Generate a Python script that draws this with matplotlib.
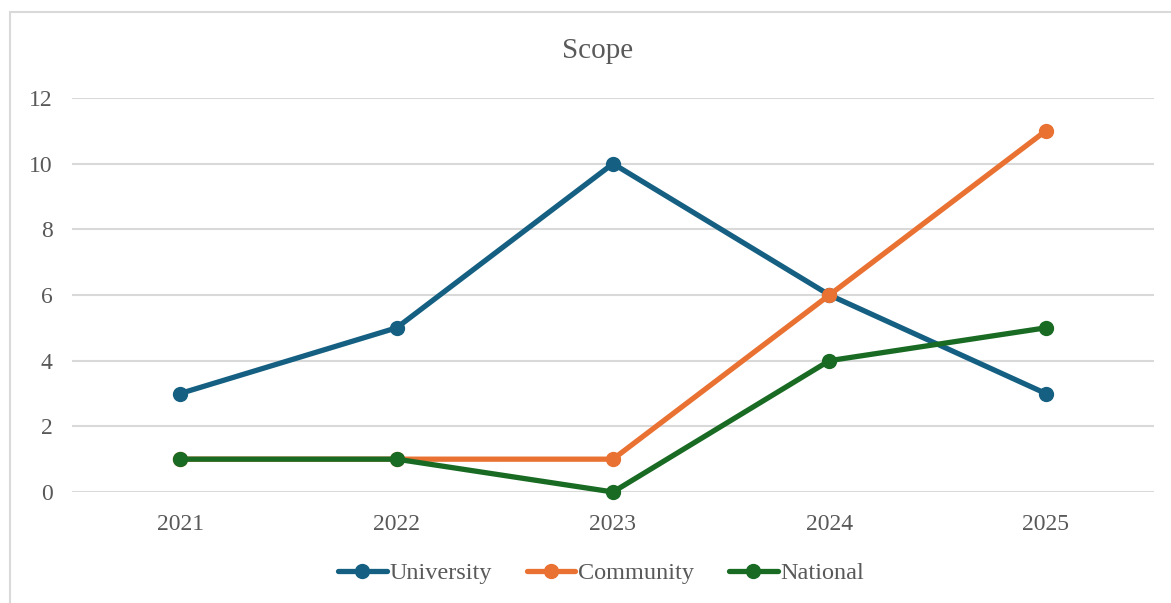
import matplotlib.pyplot as plt
from matplotlib.patches import Rectangle

# chart data
years = ['2021', '2022', '2023', '2024', '2025']
university = [3, 5, 10, 6, 3]
community = [1, 1, 1, 6, 11]
national = [1, 1, 0, 4, 5]

plt.rcParams['font.family'] = ['Liberation Serif', 'DejaVu Serif']

W, H = 1171, 603
fig = plt.figure(figsize=(W / 100, H / 100), dpi=100)

# light border round the chart area (right and bottom run off the picture)
fig.patches.append(Rectangle((10 / W, -0.1), 1.2, 1.1 - 12 / H, transform=fig.transFigure,
                             fill=False, edgecolor='#d9d9d9', linewidth=1.5))

ax = fig.add_axes([72 / W, 1 - 492 / H, (1154 - 72) / W, (492 - 98) / H])

x = range(len(years))
series = [('University', university, '#156082'),
          ('Community', community, '#E97132'),
          ('National', national, '#196B24')]
for name, vals, col in series:
    ax.plot(x, vals, color=col, linewidth=3.8, marker='o', markersize=10,
            solid_capstyle='round', label=name, clip_on=False)

ax.set_xlim(-0.5, 4.5)
ax.set_ylim(0, 12)
ax.set_yticks(range(0, 13, 2))
ax.set_xticks(list(x))
ax.set_xticklabels(years)
ax.grid(axis='y', color='#d9d9d9', linewidth=1.5)
ax.set_axisbelow(True)
for s in ax.spines.values():
    s.set_visible(False)
ax.tick_params(length=0, labelsize=17, labelcolor='#595959')
ax.tick_params(axis='x', pad=16)
ax.tick_params(axis='y', pad=14)

fig.text(598 / W, 1 - 51 / H, 'Scope', ha='center', va='center', fontsize=21, color='#595959')

fig.legend(loc='center', bbox_to_anchor=(601 / W, 1 - 573 / H), ncol=3, frameon=False,
           fontsize=17.5, labelcolor='#595959', handlelength=2.0, handletextpad=0.1,
           columnspacing=1.45)

fig.savefig('out.png', dpi=100)
